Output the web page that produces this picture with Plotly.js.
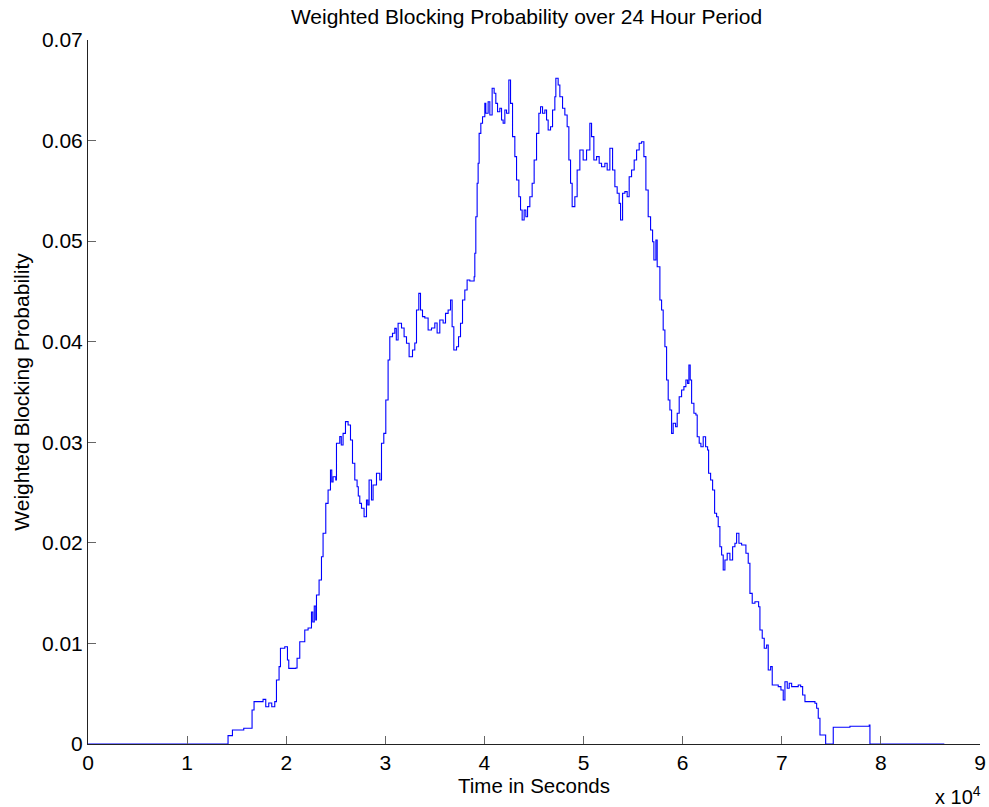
<!DOCTYPE html>
<html>
<head>
<meta charset="utf-8">
<script src="https://cdn.plot.ly/plotly-3.0.1.min.js"></script>
<style>
html,body{margin:0;padding:0;background:#fff;}
#chart{width:989px;height:807px;}
</style>
</head>
<body>
<div id="chart"></div>
<script>
// Time in seconds
const timeSec = [
0,14130,14574,15715,16553,16754,17663,17935,18238,18541,18844,19015,19278,19419,19853,20125,20257,20963,21094,21367,
21871,22205,22548,22679,22830,22982,23053,23315,23557,23718,23991,24223,24465,24596,24728,25000,25071,25404,25555,25737,
25979,26242,26484,26686,26918,27150,27271,27423,27594,27857,28099,28230,28361,28604,28765,29108,29441,29613,29845,30047,
30279,30451,30723,30955,31107,31288,31632,31894,32136,32399,32741,32973,33145,33377,33548,33750,33983,34316,34659,34992,
35225,35497,35830,36073,36335,36577,36739,36910,37183,37385,37586,37788,38020,38252,38525,38959,39029,39130,39262,39363,
39464,39635,39807,40039,40140,40372,40544,40776,40978,41149,41321,41553,41725,41886,42058,42229,42461,42633,42835,43067,
43239,43471,43642,43804,44006,44177,44349,44581,44813,45015,45257,45489,45661,45863,46095,46267,46428,46670,46872,47104,
47205,47437,47609,47881,48113,48345,48517,48688,48850,49122,49354,49627,49960,50303,50636,50808,51040,51313,51575,51817,
52150,52383,52655,52928,53160,53392,53594,53735,53937,54169,54401,54603,54846,55108,55350,55613,55855,56087,56289,56521,
56763,56965,57096,57298,57429,57702,57873,58035,58207,58378,58540,58711,58883,59044,59286,59448,59650,59892,60124,60326,
60498,60629,60760,60902,61134,61336,61467,61669,61840,62072,62314,62516,62617,62819,63021,63223,63424,63586,63757,63929,
64091,64262,64494,64767,65039,65272,65443,65675,65948,66180,66382,66614,66786,67018,67291,67523,67664,67796,68028,68230,
68472,68633,68876,69037,69643,69915,70147,70319,70551,70753,70995,71661,71904,72105,72338,73014,73347,73519,73680,73852,
74427,75193,76876,78824,78895,86400
];
// Weighted blocking probability
const blockProb = [
0,0.00083,0.00139,0.00156,0.00338,0.00421,0.00444,0.00371,0.00408,0.00371,0.00421,0.00636,0.00769,0.00952,0.00967,0.00835,0.00752,0.00756,0.00852,0.01017,
0.01134,0.01153,0.01313,0.01213,0.01372,0.01233,0.01482,0.01631,0.01862,0.02095,0.02393,0.02526,0.02724,0.02605,0.02658,0.02625,0.02990,0.03056,0.02973,0.03089,
0.03205,0.03172,0.03023,0.02791,0.02625,0.02558,0.02466,0.02393,0.02344,0.02260,0.02426,0.02376,0.02625,0.02426,0.02575,0.02692,0.02625,0.02990,0.03089,0.03420,
0.03818,0.04050,0.04084,0.04133,0.04017,0.04183,0.04136,0.04050,0.03984,0.03851,0.03918,0.03987,0.04315,0.04481,0.04315,0.04249,0.04236,0.04116,0.04136,0.04186,
0.04087,0.04216,0.04186,0.04282,0.04315,0.04415,0.04149,0.03918,0.03950,0.04050,0.04183,0.04415,0.04514,0.04614,0.04604,0.04646,0.04879,0.05243,0.05575,0.05774,
0.06072,0.06172,0.06237,0.06370,0.06271,0.06386,0.06254,0.06520,0.06470,0.06370,0.06287,0.06321,0.06204,0.06172,0.06304,0.06271,0.06602,0.06370,0.06039,0.05840,
0.05608,0.05442,0.05310,0.05210,0.05310,0.05243,0.05343,0.05442,0.05575,0.05807,0.06072,0.06271,0.06337,0.06271,0.06304,0.06204,0.06105,0.06138,0.06304,0.06436,
0.06619,0.06552,0.06436,0.06321,0.06254,0.06138,0.05807,0.05575,0.05343,0.05442,0.05707,0.05906,0.05807,0.05906,0.06172,0.06039,0.05807,0.05840,0.05774,0.05740,
0.05774,0.05707,0.05923,0.05707,0.05541,0.05476,0.05376,0.05210,0.05476,0.05492,0.05442,0.05641,0.05707,0.05807,0.05906,0.05973,0.05989,0.05840,0.05508,0.05243,
0.05111,0.04994,0.04812,0.05011,0.04746,0.04415,0.04315,0.04116,0.03950,0.03619,0.03420,0.03321,0.03089,0.03189,0.03155,0.03288,0.03453,0.03520,0.03553,0.03619,
0.03586,0.03768,0.03619,0.03388,0.03288,0.03271,0.03055,0.02990,0.02956,0.03055,0.02956,0.02923,0.02692,0.02625,0.02526,0.02294,0.02260,0.02161,0.01962,0.01879,
0.01730,0.01830,0.01896,0.01830,0.01962,0.01996,0.02095,0.01996,0.01979,0.01979,0.01896,0.01797,0.01498,0.01399,0.01415,0.01415,0.01365,0.01134,0.01051,0.00952,
0.00984,0.00736,0.00769,0.00587,0.00570,0.00537,0.00437,0.00619,0.00554,0.00604,0.00570,0.00587,0.00570,0.00487,0.00421,0.00421,0.00405,0.00355,0.00256,0.00089,
0,0.00166,0.00176,0.00189,0,0
];
const xTickVals = [0,10000,20000,30000,40000,50000,60000,70000,80000,90000];
const xTickText = ['0','1','2','3','4','5','6','7','8','9'];
const yTickVals = [0,0.01,0.02,0.03,0.04,0.05,0.06,0.07];
const yTickText = ['0','0.01','0.02','0.03','0.04','0.05','0.06','0.07'];

const font = 'Liberation Sans, Arial, sans-serif';
const trace = {
  x: timeSec, y: blockProb, type: 'scatter', mode: 'lines',
  line: {color: '#0000ff', width: 1.1, shape: 'hv'},
  hoverinfo: 'x+y'
};
const layout = {
  width: 989, height: 807,
  margin: {l: 88, r: 9, t: 40, b: 63},
  paper_bgcolor: '#ffffff', plot_bgcolor: '#ffffff',
  showlegend: false,
  font: {family: font, size: 20, color: '#000'},
  title: {text: 'Weighted Blocking Probability over 24 Hour Period', font: {family: font, size: 21, color: '#000'}, x: 0.4916, xref: 'paper', y: 0.979, yref: 'container', xanchor: 'center', yanchor: 'middle'},
  xaxis: {
    range: [0, 90000], tickvals: xTickVals, ticktext: xTickText,
    ticks: 'inside', ticklen: 8, tickcolor: '#666', tickwidth: 1,
    showline: true, linecolor: '#222', linewidth: 1, mirror: false,
    showgrid: false, zeroline: false,
    tickfont: {family: font, size: 21, color: '#000'},
    title: {text: 'Time in Seconds', font: {family: font, size: 20.5, color: '#000'}, standoff: 4}
  },
  yaxis: {
    range: [0, 0.07], tickvals: yTickVals, ticktext: yTickText,
    ticks: 'inside', ticklen: 8, tickcolor: '#666', tickwidth: 1,
    showline: true, linecolor: '#222', linewidth: 1, mirror: false,
    showgrid: false, zeroline: false,
    tickfont: {family: font, size: 21, color: '#000'},
    title: {text: 'Weighted Blocking Probability', font: {family: font, size: 21, color: '#000'}, standoff: 6}
  },
  annotations: [{
    text: 'x 10<sup>4</sup>', xref: 'paper', yref: 'paper', x: 1.003, y: -0.073,
    xanchor: 'right', yanchor: 'middle', showarrow: false,
    font: {family: font, size: 20, color: '#000'}
  }]
};
Plotly.newPlot('chart', [trace], layout, {displayModeBar: false, staticPlot: true});
</script>
</body>
</html>
